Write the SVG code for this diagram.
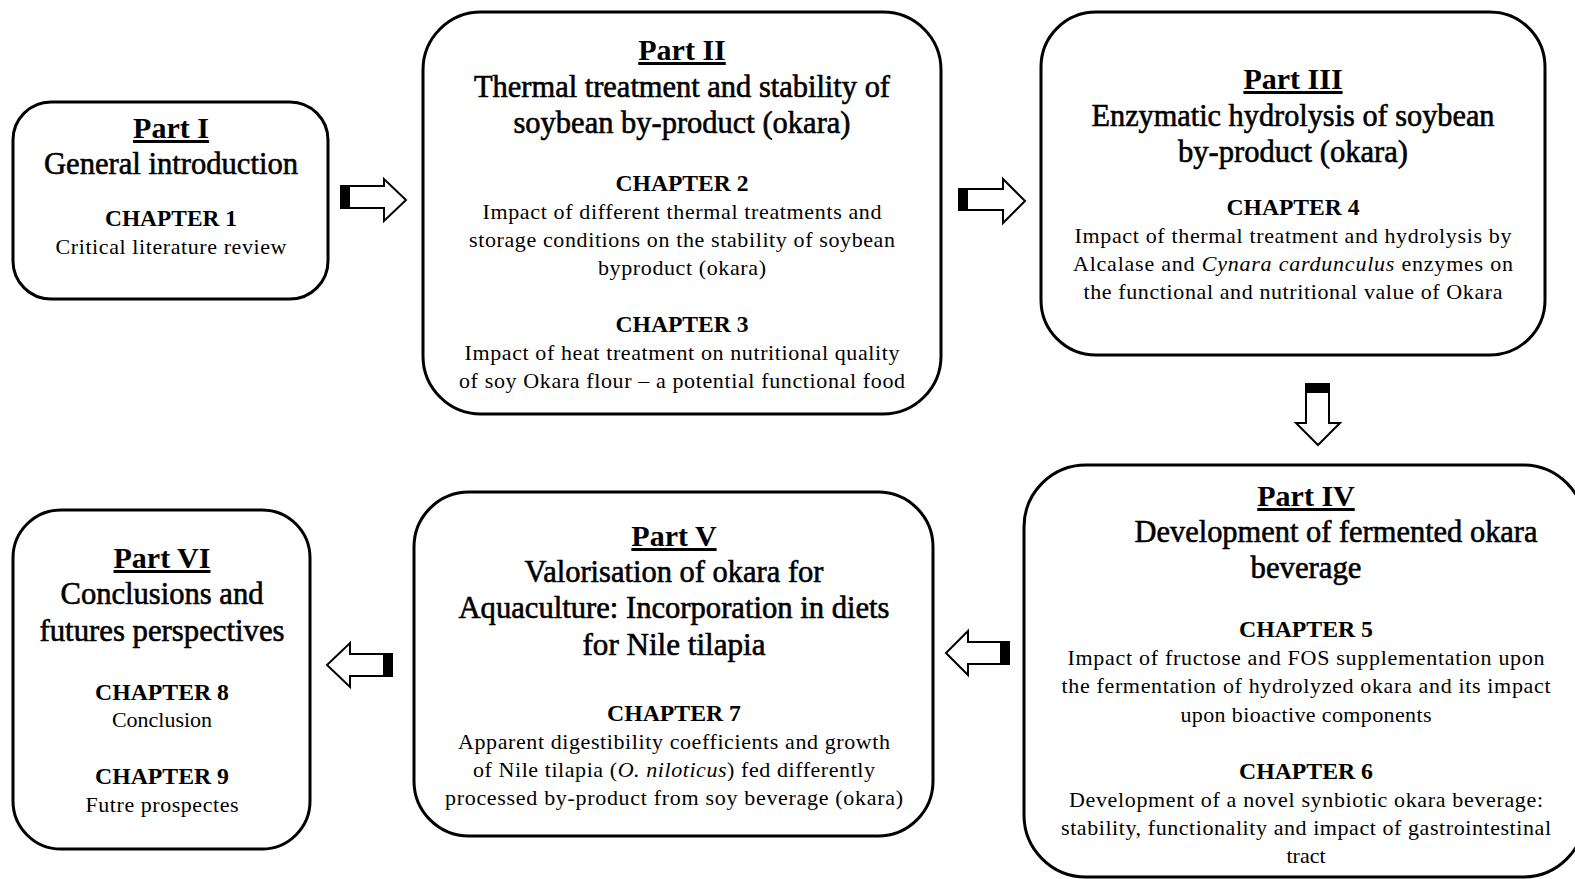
<svg xmlns="http://www.w3.org/2000/svg" width="1575" height="879" viewBox="0 0 1575 879">
<style>
.box{fill:#fff;stroke:#000;stroke-width:3}
.arr{fill:#fff;stroke:#000;stroke-width:2;stroke-linejoin:miter}
.blk{fill:#000}
text{font-family:"Liberation Serif","Times New Roman",serif;fill:#000;text-anchor:middle}
.pt{font-size:30px;font-weight:bold;text-decoration:underline}
.hd{font-size:31px;stroke:#000;stroke-width:0.6}
.ch{font-size:23px;font-weight:bold}
.bd{font-size:22px}
.it{font-style:italic}
</style>
<rect width="1575" height="879" fill="#fff"/>
<g id="connectors">
<path class="arr" d="M341,186 H384 V179 L406,200 L384,221 V208 H341 Z"/>
<rect class="blk" x="341" y="186" width="9" height="22"/>
<path class="arr" d="M959,189 H1003 V179 L1025,201 L1003,223 V210 H959 Z"/>
<rect class="blk" x="959" y="189" width="9" height="21"/>
<path class="arr" d="M1306,384 V423 H1296 L1318,445 L1340,423 H1329 V384 Z"/>
<rect class="blk" x="1306" y="384" width="23" height="9"/>
<path class="arr" d="M1009,642 H968 V631 L946,653 L968,675 V664 H1009 Z"/>
<rect class="blk" x="1000" y="642" width="9" height="22"/>
<path class="arr" d="M392,654 H350 V643 L327,665 L350,687 V676 H392 Z"/>
<rect class="blk" x="383" y="654" width="9" height="22"/>
</g>
<g id="part1">
<rect class="box" x="13" y="102" width="315" height="197" rx="38"/>
<text class="pt" x="171" y="138">Part I</text>
<text class="hd" x="171" y="174" textLength="254" lengthAdjust="spacingAndGlyphs">General introduction</text>
<text class="ch" x="171" y="226" textLength="132" lengthAdjust="spacingAndGlyphs">CHAPTER 1</text>
<text class="bd" x="171" y="254" textLength="231" lengthAdjust="spacing">Critical literature review</text>
</g>
<g id="part2">
<rect class="box" x="423" y="12" width="518" height="402" rx="58"/>
<text class="pt" x="682" y="60">Part II</text>
<text class="hd" x="682" y="97" textLength="416" lengthAdjust="spacingAndGlyphs">Thermal treatment and stability of</text>
<text class="hd" x="682" y="133" textLength="337" lengthAdjust="spacingAndGlyphs">soybean by-product (okara)</text>
<text class="ch" x="682" y="191" textLength="133" lengthAdjust="spacingAndGlyphs">CHAPTER 2</text>
<text class="bd" x="682" y="219" textLength="399" lengthAdjust="spacing">Impact of different thermal treatments and</text>
<text class="bd" x="682" y="247" textLength="426" lengthAdjust="spacing">storage conditions on the stability of soybean</text>
<text class="bd" x="682" y="275" textLength="168" lengthAdjust="spacing">byproduct (okara)</text>
<text class="ch" x="682" y="332" textLength="133" lengthAdjust="spacingAndGlyphs">CHAPTER 3</text>
<text class="bd" x="682" y="360" textLength="435" lengthAdjust="spacing">Impact of heat treatment on nutritional quality</text>
<text class="bd" x="682" y="388" textLength="446" lengthAdjust="spacing">of soy Okara flour – a potential functional food</text>
</g>
<g id="part3">
<rect class="box" x="1041" y="12" width="504" height="343" rx="55"/>
<text class="pt" x="1293" y="89">Part III</text>
<text class="hd" x="1293" y="126" textLength="403" lengthAdjust="spacingAndGlyphs">Enzymatic hydrolysis of soybean</text>
<text class="hd" x="1293" y="162" textLength="230" lengthAdjust="spacingAndGlyphs">by-product (okara)</text>
<text class="ch" x="1293" y="215" textLength="133" lengthAdjust="spacingAndGlyphs">CHAPTER 4</text>
<text class="bd" x="1293" y="243" textLength="437" lengthAdjust="spacing">Impact of thermal treatment and hydrolysis by</text>
<text class="bd" x="1293" y="271" textLength="440" lengthAdjust="spacing">Alcalase and <tspan class="it">Cynara cardunculus</tspan> enzymes on</text>
<text class="bd" x="1293" y="299" textLength="419" lengthAdjust="spacing">the functional and nutritional value of Okara</text>
</g>
<g id="part4">
<rect class="box" x="1024" y="465" width="561" height="412" rx="62"/>
<text class="pt" x="1306" y="506">Part IV</text>
<text class="hd" x="1336" y="542" textLength="403" lengthAdjust="spacingAndGlyphs">Development of fermented okara</text>
<text class="hd" x="1306" y="578" textLength="111" lengthAdjust="spacingAndGlyphs">beverage</text>
<text class="ch" x="1306" y="637" textLength="134" lengthAdjust="spacingAndGlyphs">CHAPTER 5</text>
<text class="bd" x="1306" y="665" textLength="477" lengthAdjust="spacing">Impact of fructose and FOS supplementation upon</text>
<text class="bd" x="1306" y="693" textLength="489" lengthAdjust="spacing">the fermentation of hydrolyzed okara and its impact</text>
<text class="bd" x="1306" y="722" textLength="251" lengthAdjust="spacing">upon bioactive components</text>
<text class="ch" x="1306" y="779" textLength="134" lengthAdjust="spacingAndGlyphs">CHAPTER 6</text>
<text class="bd" x="1306" y="807" textLength="474" lengthAdjust="spacing">Development of a novel synbiotic okara beverage:</text>
<text class="bd" x="1306" y="835" textLength="490" lengthAdjust="spacing">stability, functionality and impact of gastrointestinal</text>
<text class="bd" x="1306" y="863">tract</text>
</g>
<g id="part5">
<rect class="box" x="414" y="492" width="519" height="344" rx="55"/>
<text class="pt" x="674" y="546">Part V</text>
<text class="hd" x="674" y="582" textLength="299" lengthAdjust="spacingAndGlyphs">Valorisation of okara for</text>
<text class="hd" x="674" y="618" textLength="431" lengthAdjust="spacingAndGlyphs">Aquaculture: Incorporation in diets</text>
<text class="hd" x="674" y="655" textLength="183" lengthAdjust="spacingAndGlyphs">for Nile tilapia</text>
<text class="ch" x="674" y="721" textLength="134" lengthAdjust="spacingAndGlyphs">CHAPTER 7</text>
<text class="bd" x="674" y="749" textLength="432" lengthAdjust="spacing">Apparent digestibility coefficients and growth</text>
<text class="bd" x="674" y="777" textLength="402" lengthAdjust="spacing">of Nile tilapia (<tspan class="it">O. niloticus</tspan>) fed differently</text>
<text class="bd" x="674" y="805" textLength="458" lengthAdjust="spacing">processed by-product from soy beverage (okara)</text>
</g>
<g id="part6">
<rect class="box" x="13" y="510" width="297" height="339" rx="48"/>
<text class="pt" x="162" y="568">Part VI</text>
<text class="hd" x="162" y="604" textLength="203" lengthAdjust="spacingAndGlyphs">Conclusions and</text>
<text class="hd" x="162" y="641" textLength="245" lengthAdjust="spacingAndGlyphs">futures perspectives</text>
<text class="ch" x="162" y="700" textLength="134" lengthAdjust="spacingAndGlyphs">CHAPTER 8</text>
<text class="bd" x="162" y="727">Conclusion</text>
<text class="ch" x="162" y="784" textLength="134" lengthAdjust="spacingAndGlyphs">CHAPTER 9</text>
<text class="bd" x="162" y="812" textLength="153" lengthAdjust="spacing">Futre prospectes</text>
</g>
</svg>
